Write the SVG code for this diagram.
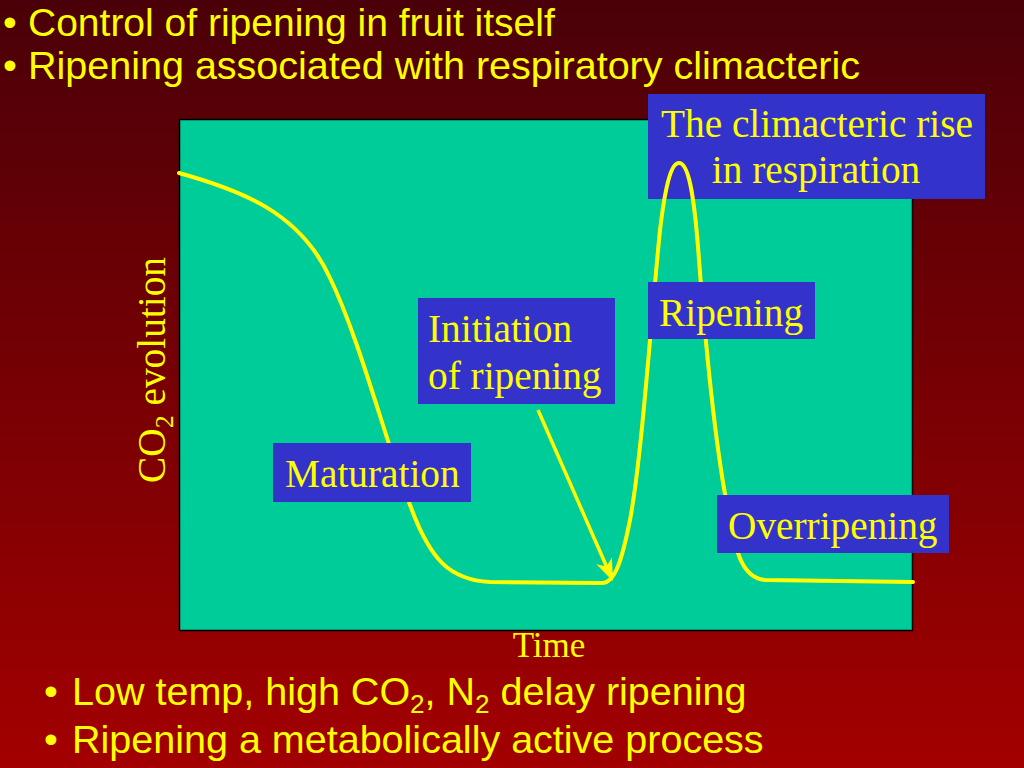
<svg xmlns="http://www.w3.org/2000/svg" width="1024" height="768" viewBox="0 0 1024 768">
<defs>
<linearGradient id="bg" x1="0" y1="0" x2="0" y2="1">
<stop offset="0" stop-color="#4A0008"/>
<stop offset="1" stop-color="#A30000"/>
</linearGradient>
<marker id="ah" markerUnits="userSpaceOnUse" markerWidth="24" markerHeight="20" refX="11" refY="8.5" orient="auto">
<path d="M0,0 L22,8.5 L0,17 L6,8.5 z" fill="#FFFF00"/>
</marker>
<style>
.bul{font-family:"Liberation Sans",Arial,sans-serif;font-size:39.5px;fill:#FFFF00}
.lbl{font-family:"Liberation Serif","Times New Roman",serif;font-size:39.3px;fill:#FFFF00}
.box{fill:#3333CC}
.curve{fill:none;stroke:#FFFF00;stroke-width:4;stroke-linecap:round;stroke-linejoin:round}
.conn{fill:none;stroke:#FFFF00;stroke-width:3.5}
</style>
</defs>
<rect x="0" y="0" width="1024" height="768" fill="url(#bg)"/>

<g id="top-text" class="bul">
<text x="3" y="35.5" font-size="39">•</text><text x="28" y="35.5" font-size="39">Control of ripening in fruit itself</text>
<text x="3" y="79">•</text><text x="28" y="79">Ripening associated with respiratory climacteric</text>
</g>

<g id="chart">
<rect x="179.5" y="119.5" width="733" height="511" fill="#00CC99" stroke="#000" stroke-width="1.5"/>
</g>

<g id="axis-labels" class="lbl">
<text transform="translate(165,370) rotate(-90)" text-anchor="middle">CO<tspan font-size="26" dy="8">2</tspan><tspan dy="-8"> evolution</tspan></text>
<text x="549" y="657" text-anchor="middle" font-size="35">Time</text>
</g>

<g id="node-climacteric">
<rect class="box" x="648" y="94" width="337" height="105"/>
<text class="lbl" x="817" y="137" text-anchor="middle">The climacteric rise</text>
<text class="lbl" x="816" y="183" text-anchor="middle">in respiration</text>
</g>

<g id="curve">
<path class="curve" d="M179,173 C240,190 300,212 330,278 C360,340 385,440 410,505 C430,560 450,580 490,582 L602,583 C615,583 622,560 630,520 C642,455 650,330 660,230 C666,180 672,163 679,163 C688,163 694,190 699,260 C706,350 716,450 728,510 C736,555 743,578 765,580 L913,582"/>
</g>

<g id="node-maturation">
<rect class="box" x="273" y="443" width="198" height="59"/>
<text class="lbl" x="285" y="487">Maturation</text>
</g>

<g id="node-initiation">
<rect class="box" x="418" y="298" width="197" height="106"/>
<text class="lbl" x="428" y="342">Initiation</text>
<text class="lbl" x="428" y="389">of ripening</text>
</g>

<g id="node-ripening">
<rect class="box" x="648" y="282" width="167" height="57"/>
<text class="lbl" x="659" y="326">Ripening</text>
</g>

<g id="node-overripening">
<rect class="box" x="717" y="495" width="232" height="58"/>
<text class="lbl" x="728" y="539">Overripening</text>
</g>

<g id="connectors">
<line class="conn" x1="538" y1="410" x2="608.5" y2="571" marker-end="url(#ah)"/>
</g>

<g id="bottom-text" class="bul">
<text x="44" y="705">•</text><text x="72" y="705">Low temp, high CO<tspan font-size="26" dy="8">2</tspan><tspan dy="-8">, N</tspan><tspan font-size="26" dy="8">2</tspan><tspan dy="-8"> delay ripening</tspan></text>
<text x="44" y="753">•</text><text x="72" y="753">Ripening a metabolically active process</text>
</g>
</svg>
